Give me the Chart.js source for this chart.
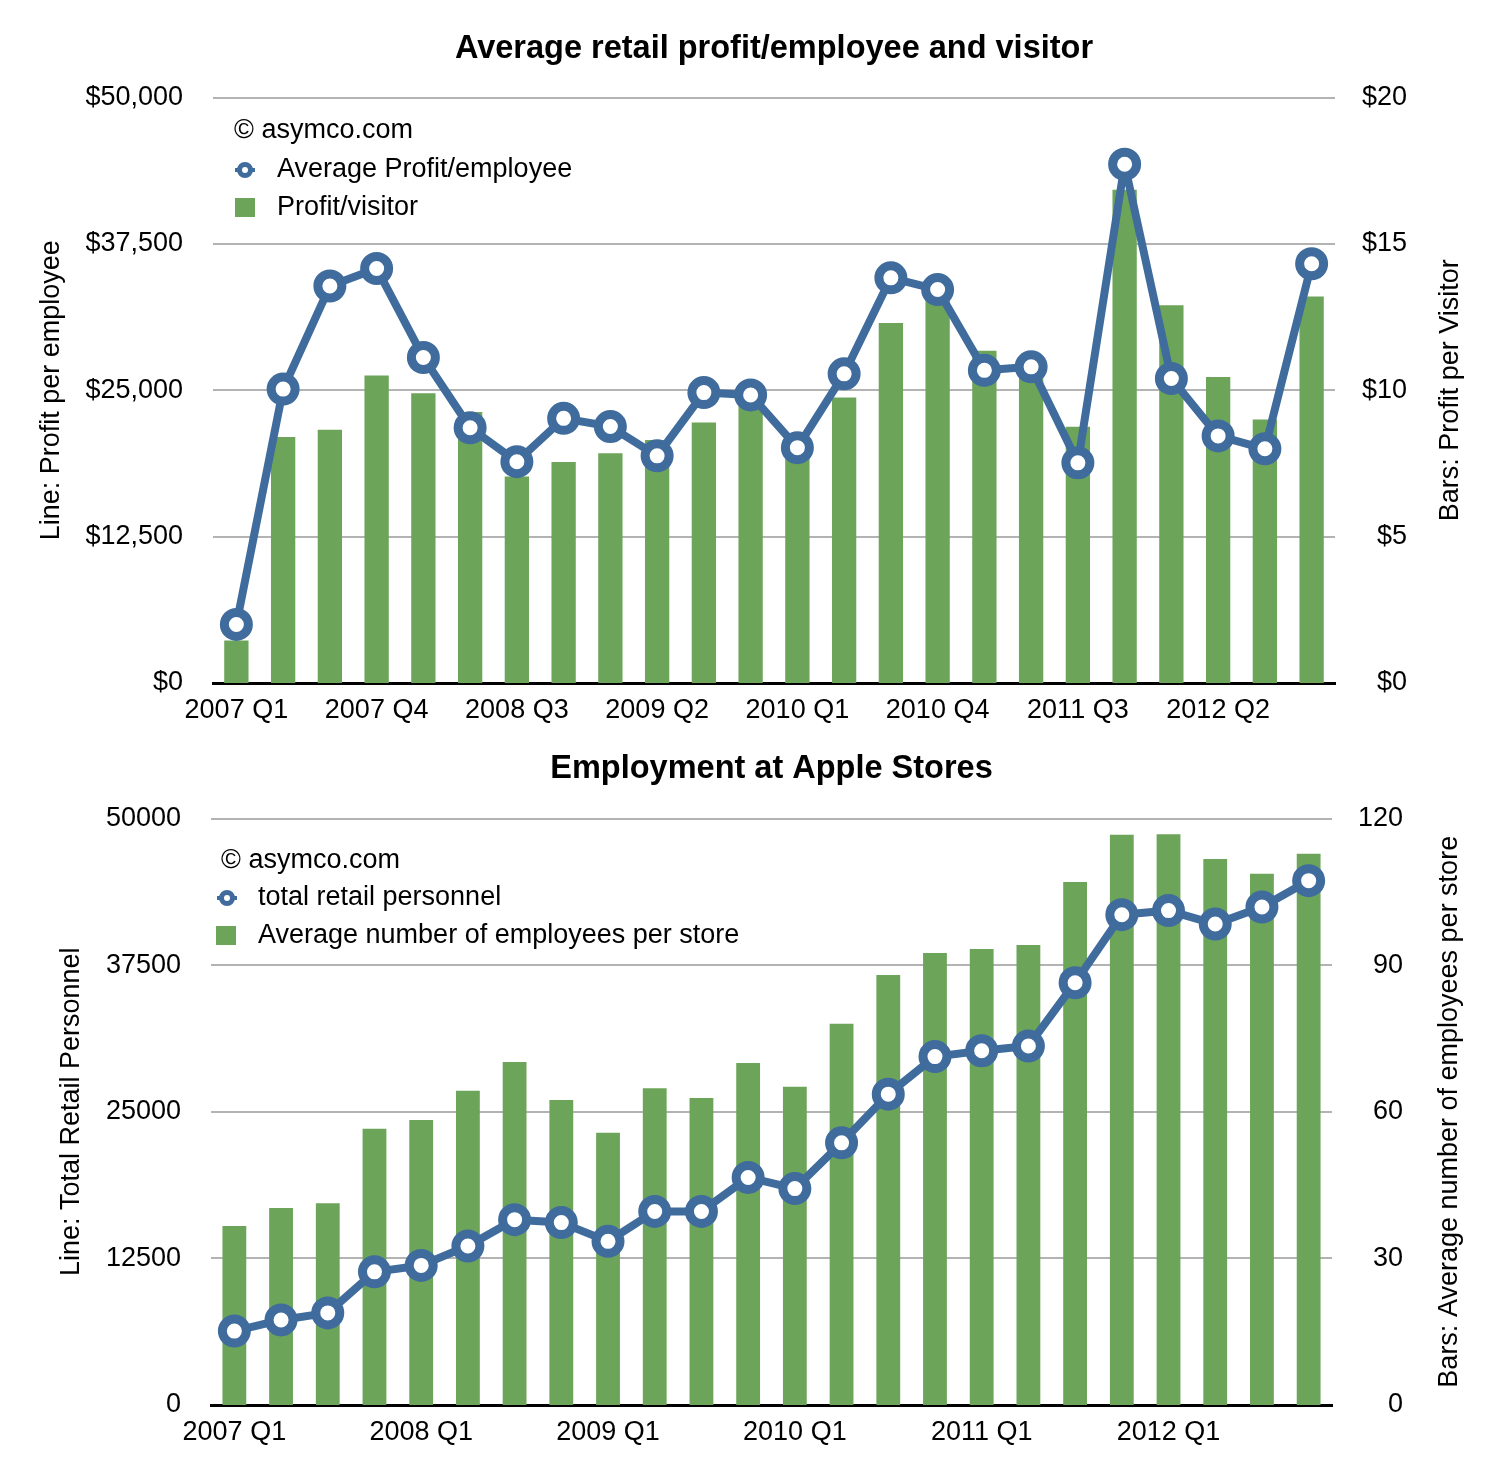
<!DOCTYPE html>
<html>
<head>
<meta charset="utf-8">
<title>Apple retail</title>
<script src="https://cdn.jsdelivr.net/npm/chart.js@4.4.1/dist/chart.umd.min.js"></script>
<style>
  html, body { margin: 0; padding: 0; background: #fff; }
  canvas { position: absolute; left: 0; }
  #grafico-lucro { top: 0; }
  #grafico-empregos { top: 740px; }
</style>
</head>
<body>
<canvas id="grafico-lucro" width="1508" height="740"></canvas>
<canvas id="grafico-empregos" width="1508" height="738"></canvas>
<script>
const trimestres = [
  '2007 Q1', '2007 Q2', '2007 Q3', '2007 Q4',
  '2008 Q1', '2008 Q2', '2008 Q3', '2008 Q4',
  '2009 Q1', '2009 Q2', '2009 Q3', '2009 Q4',
  '2010 Q1', '2010 Q2', '2010 Q3', '2010 Q4',
  '2011 Q1', '2011 Q2', '2011 Q3', '2011 Q4',
  '2012 Q1', '2012 Q2', '2012 Q3', '2012 Q4'
];

// grafico de cima
const lucroPorFuncionario = [5000, 25100, 33900, 35400, 27800, 21800, 18900, 22600, 21900, 19400, 24800, 24600,
  20100, 26400, 34600, 33600, 26700, 27000, 18800, 44300, 26000, 21100, 20000, 35800];
const lucroPorVisitante = [1.45, 8.4, 8.65, 10.5, 9.9, 9.26, 7.05, 7.55, 7.85, 8.3, 8.9, 9.7,
  8.0, 9.75, 12.3, 13.3, 11.35, 10.6, 8.75, 16.85, 12.9, 10.45, 9.0, 13.2];
const ticksLucroFuncionario = [0, 12500, 25000, 37500, 50000];
const ticksLucroVisitante = [0, 5, 10, 15, 20];

// grafico de baixo
const totalFuncionarios = [6300, 7250, 7850, 11350, 11900, 13550, 15800, 15550, 13950, 16500, 16500, 19400,
  18450, 22350, 26500, 29700, 30200, 30600, 36000, 41800, 42150, 41000, 42450, 44700];
const funcionariosPorLoja = [36.6, 40.3, 41.3, 56.5, 58.3, 64.3, 70.2, 62.4, 55.7, 64.8, 62.8, 70.0,
  65.1, 78.0, 88.0, 92.5, 93.3, 94.1, 107.0, 116.7, 116.8, 111.7, 108.7, 112.8];
const ticksTotal = [0, 12500, 25000, 37500, 50000];
const ticksPorLoja = [0, 30, 60, 90, 120];

const azul = '#3f6c9d';
const verde = '#6ca55a';
const fonte = '"Liberation Sans", Arial, Helvetica, sans-serif';

Chart.defaults.font.family = fonte;
Chart.defaults.font.size = 27;
Chart.defaults.color = '#000';

// titulos dos eixos (lidos de baixo para cima) e a legenda com o copyright
const textosExtras = {
  id: 'textosExtras',
  afterDraw(chart, args, opts) {
    const ctx = chart.ctx;
    const area = chart.chartArea;
    const meio = (area.top + area.bottom) / 2;
    ctx.save();
    ctx.fillStyle = '#000';
    ctx.font = '27px ' + fonte;
    ctx.textAlign = 'center';
    ctx.textBaseline = 'middle';
    [[opts.xEsquerda, opts.tituloEsquerda], [opts.xDireita, opts.tituloDireita]].forEach(([x, texto]) => {
      ctx.save();
      ctx.translate(x, meio);
      ctx.rotate(-Math.PI / 2);
      ctx.fillText(texto, 0, 0);
      ctx.restore();
    });

    const leg = opts.legenda;
    const linha = chart.data.datasets[0];
    const barras = chart.data.datasets[1];
    ctx.textAlign = 'left';
    ctx.fillText('© asymco.com', leg.copyX, leg.copyY);

    // simbolo da linha
    ctx.strokeStyle = azul;
    ctx.lineWidth = 4;
    ctx.beginPath();
    ctx.moveTo(leg.anelX - 10, leg.anelY);
    ctx.lineTo(leg.anelX + 10, leg.anelY);
    ctx.stroke();
    ctx.lineWidth = 5;
    ctx.fillStyle = '#fff';
    ctx.beginPath();
    ctx.arc(leg.anelX, leg.anelY, 5.5, 0, Math.PI * 2);
    ctx.fill();
    ctx.stroke();
    ctx.fillStyle = '#000';
    ctx.fillText(linha.label, leg.textoX, leg.anelY);

    // simbolo das barras
    ctx.fillStyle = verde;
    ctx.fillRect(leg.quadX, leg.quadY, 20, 19);
    ctx.fillStyle = '#000';
    ctx.fillText(barras.label, leg.textoX, leg.quadY + 9.5);
    ctx.restore();
  }
};

function corGrade(c) {
  return c.tick.value === 0 ? '#000' : '#b3b3b3';
}
function larguraGrade(c) {
  return c.tick.value === 0 ? 3 : 2;
}

function criarGrafico(idCanvas, cfg) {
  const ctx = document.getElementById(idCanvas).getContext('2d');
  return new Chart(ctx, {
    type: 'bar',
    data: {
      labels: trimestres,
      datasets: [
        {
          type: 'line',
          label: cfg.nomeLinha,
          data: cfg.dadosLinha,
          yAxisID: 'y',
          borderColor: azul,
          borderWidth: 8,
          borderJoinStyle: 'round',
          pointRadius: 12,
          pointBorderWidth: 9,
          pointBackgroundColor: '#fff',
          pointBorderColor: azul,
          tension: 0,
          clip: false
        },
        {
          type: 'bar',
          label: cfg.nomeBarras,
          data: cfg.dadosBarras,
          yAxisID: 'y1',
          backgroundColor: verde,
          barPercentage: cfg.larguraBarra,
          categoryPercentage: 1
        }
      ]
    },
    options: {
      responsive: false,
      animation: false,
      layout: { padding: { left: 0, top: 0, bottom: 0, right: cfg.margemDireita } },
      plugins: {
        legend: { display: false },
        tooltip: { enabled: false },
        title: {
          display: true,
          fullSize: false,
          text: cfg.titulo,
          color: '#000',
          font: { size: 32.5, weight: 'bold' },
          padding: { top: cfg.tituloTopo, bottom: cfg.tituloBaixo }
        },
        textosExtras: cfg.extras
      },
      scales: {
        x: {
          grid: { display: false, drawTicks: false },
          border: { display: true, color: '#000', width: 3 },
          ticks: {
            autoSkip: false,
            maxRotation: 0,
            padding: 11,
            callback: (v, i) => (i % cfg.passoRotulo === 0 ? trimestres[i] : '')
          },
          afterFit: s => { s.height = cfg.alturaEixoX; }
        },
        y: {
          position: 'left',
          min: 0,
          max: cfg.ticksEsquerda[cfg.ticksEsquerda.length - 1],
          afterBuildTicks: s => { s.ticks = cfg.ticksEsquerda.map(v => ({ value: v })); },
          ticks: { padding: 30, callback: cfg.formatoEsquerda },
          grid: { color: corGrade, lineWidth: larguraGrade, drawTicks: false },
          border: { display: false },
          afterFit: s => { s.width = cfg.larguraEsquerda; }
        },
        y1: {
          position: 'right',
          min: 0,
          max: cfg.ticksDireita[cfg.ticksDireita.length - 1],
          afterBuildTicks: s => { s.ticks = cfg.ticksDireita.map(v => ({ value: v })); },
          ticks: { crossAlign: 'far', callback: cfg.formatoDireita },
          grid: { display: false, drawTicks: false },
          border: { display: false },
          afterFit: s => { s.width = cfg.larguraDireita; }
        }
      }
    },
    plugins: [textosExtras]
  });
}

criarGrafico('grafico-lucro', {
  titulo: 'Average retail profit/employee and visitor',
  nomeLinha: 'Average Profit/employee',
  nomeBarras: 'Profit/visitor',
  dadosLinha: lucroPorFuncionario,
  dadosBarras: lucroPorVisitante,
  ticksEsquerda: ticksLucroFuncionario,
  ticksDireita: ticksLucroVisitante,
  formatoEsquerda: v => '$' + v.toLocaleString('en-US'),
  formatoDireita: v => '$' + v,
  larguraBarra: 0.52,
  passoRotulo: 3,
  tituloTopo: 29.5,
  tituloBaixo: 29,
  alturaEixoX: 57,
  larguraEsquerda: 213,
  larguraDireita: 72,
  margemDireita: 101,
  extras: {
    tituloEsquerda: 'Line: Profit per employee',
    tituloDireita: 'Bars: Profit per Visitor',
    xEsquerda: 52,
    xDireita: 1451,
    legenda: { copyX: 234, copyY: 131, anelX: 245, anelY: 170, textoX: 277, quadX: 235, quadY: 198 }
  }
});

criarGrafico('grafico-empregos', {
  titulo: 'Employment at Apple Stores',
  nomeLinha: 'total retail personnel',
  nomeBarras: 'Average number of employees per store',
  dadosLinha: totalFuncionarios,
  dadosBarras: funcionariosPorLoja,
  ticksEsquerda: ticksTotal,
  ticksDireita: ticksPorLoja,
  formatoEsquerda: v => String(v),
  formatoDireita: v => String(v),
  larguraBarra: 0.51,
  passoRotulo: 4,
  tituloTopo: 9.5,
  tituloBaixo: 30,
  alturaEixoX: 73,
  larguraEsquerda: 211,
  larguraDireita: 71,
  margemDireita: 105,
  extras: {
    tituloEsquerda: 'Line: Total Retail Personnel',
    tituloDireita: 'Bars: Average number of employees per store',
    xEsquerda: 72,
    xDireita: 1450,
    legenda: { copyX: 221, copyY: 121, anelX: 227, anelY: 158, textoX: 258, quadX: 216, quadY: 186 }
  }
});
</script>
</body>
</html>
